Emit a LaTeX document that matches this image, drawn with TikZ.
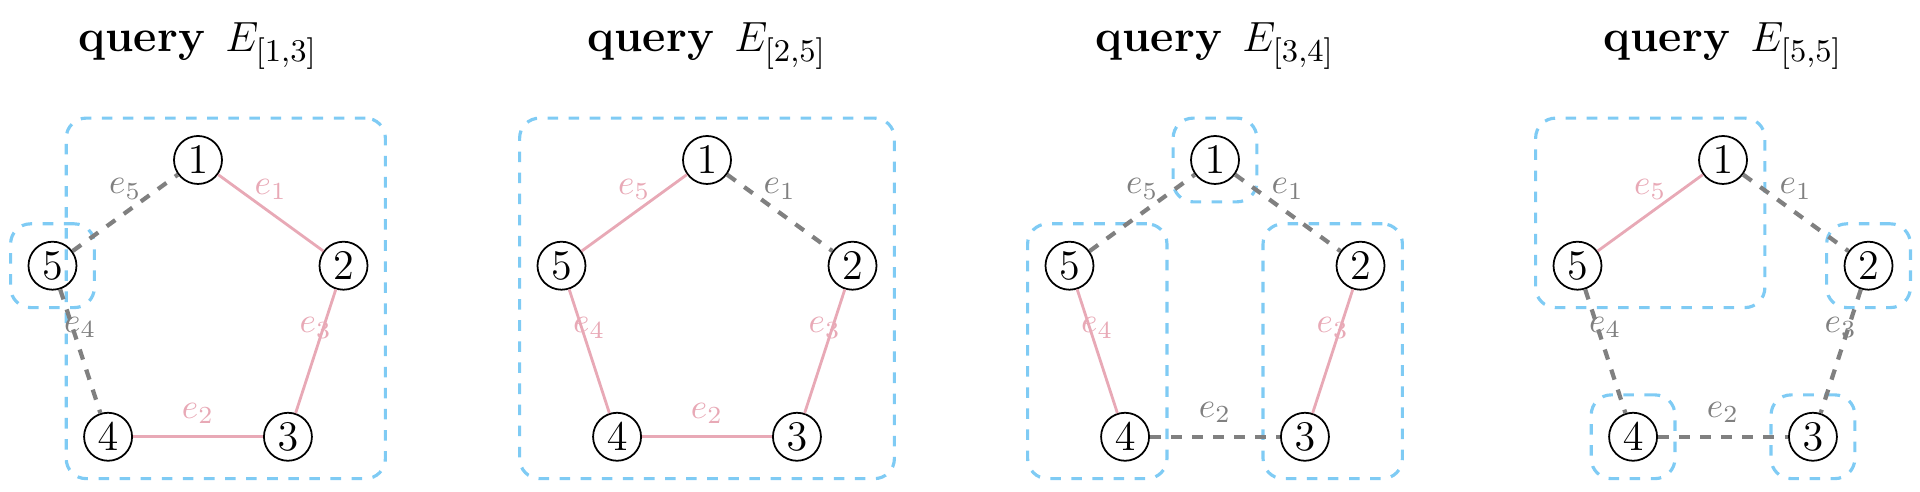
\documentclass[tikz,border=0pt]{standalone}
\usetikzlibrary{fit}

\definecolor{skyblue}{HTML}{7FCBF4}
\definecolor{rosepink}{HTML}{E8A9B6}
\definecolor{edgegray}{HTML}{808080}

\tikzset{
    vertex/.style={draw, circle, line width=0.5pt, minimum size=0.48cm, inner sep=0pt, font=\large},
    inq/.style={rosepink, line width=0.8pt},
    outq/.style={edgegray, dashed, line width=1.2pt},
    elabel/.style={midway, above, font=\normalsize},
    group/.style={draw=skyblue, dashed, line width=0.9pt, rounded corners=0.2cm, inner sep=0.17cm},
    title/.style={anchor=base, font=\fontsize{12.9}{15}\selectfont}
}

\begin{document}
\begin{tikzpicture}
    \useasboundingbox (0,0) rectangle (19.2,4.92);

    % Add the titles and the five vertices of each panel
    \foreach \p/\cx/\ivl in {a/1.98/{[1,3]}, b/7.07/{[2,5]}, c/12.15/{[3,4]}, d/17.23/{[5,5]}} {
        \node[title] (t\p) at (\cx,4.40) {\textbf{query}\hspace{0.45em}$E_{\ivl}$};
        \begin{scope}[shift={(\cx,1.79)}]
            \foreach \i in {1,...,5}
                \node[vertex] (\p\i) at ({90-72*(\i-1)}:1.53) {$\i$};
        \end{scope}
    }

    % Add the blocks of each query
    \node[group, fit=(a1)(a2)(a3)(a4)] (ga1) {};
    \node[group, fit=(a5)] (ga2) {};
    \node[group, fit=(b1)(b2)(b3)(b4)(b5)] (gb1) {};
    \node[group, fit=(c1)] (gc1) {};
    \node[group, fit=(c5)(c4)] (gc2) {};
    \node[group, fit=(c2)(c3)] (gc3) {};
    \node[group, fit=(d1)(d5)] (gd1) {};
    \node[group, fit=(d2)] (gd2) {};
    \node[group, fit=(d4)] (gd3) {};
    \node[group, fit=(d3)] (gd4) {};

    % Add the edges of query E_[1,3]
    \draw[inq] (a1) -- (a2) node[elabel] {$e_1$};
    \draw[inq] (a4) -- (a3) node[elabel] {$e_2$};
    \draw[inq] (a2) -- (a3) node[elabel] {$e_3$};
    \draw[outq] (a5) -- (a4) node[elabel] {$e_4$};
    \draw[outq] (a5) -- (a1) node[elabel] {$e_5$};

    % Add the edges of query E_[2,5]
    \draw[outq] (b1) -- (b2) node[elabel] {$e_1$};
    \draw[inq] (b4) -- (b3) node[elabel] {$e_2$};
    \draw[inq] (b2) -- (b3) node[elabel] {$e_3$};
    \draw[inq] (b5) -- (b4) node[elabel] {$e_4$};
    \draw[inq] (b5) -- (b1) node[elabel] {$e_5$};

    % Add the edges of query E_[3,4]
    \draw[outq] (c1) -- (c2) node[elabel] {$e_1$};
    \draw[outq] (c4) -- (c3) node[elabel] {$e_2$};
    \draw[inq] (c2) -- (c3) node[elabel] {$e_3$};
    \draw[inq] (c5) -- (c4) node[elabel] {$e_4$};
    \draw[outq] (c5) -- (c1) node[elabel] {$e_5$};

    % Add the edges of query E_[5,5]
    \draw[outq] (d1) -- (d2) node[elabel] {$e_1$};
    \draw[outq] (d4) -- (d3) node[elabel] {$e_2$};
    \draw[outq] (d2) -- (d3) node[elabel] {$e_3$};
    \draw[outq] (d5) -- (d4) node[elabel] {$e_4$};
    \draw[inq] (d5) -- (d1) node[elabel] {$e_5$};
\end{tikzpicture}
\end{document}
